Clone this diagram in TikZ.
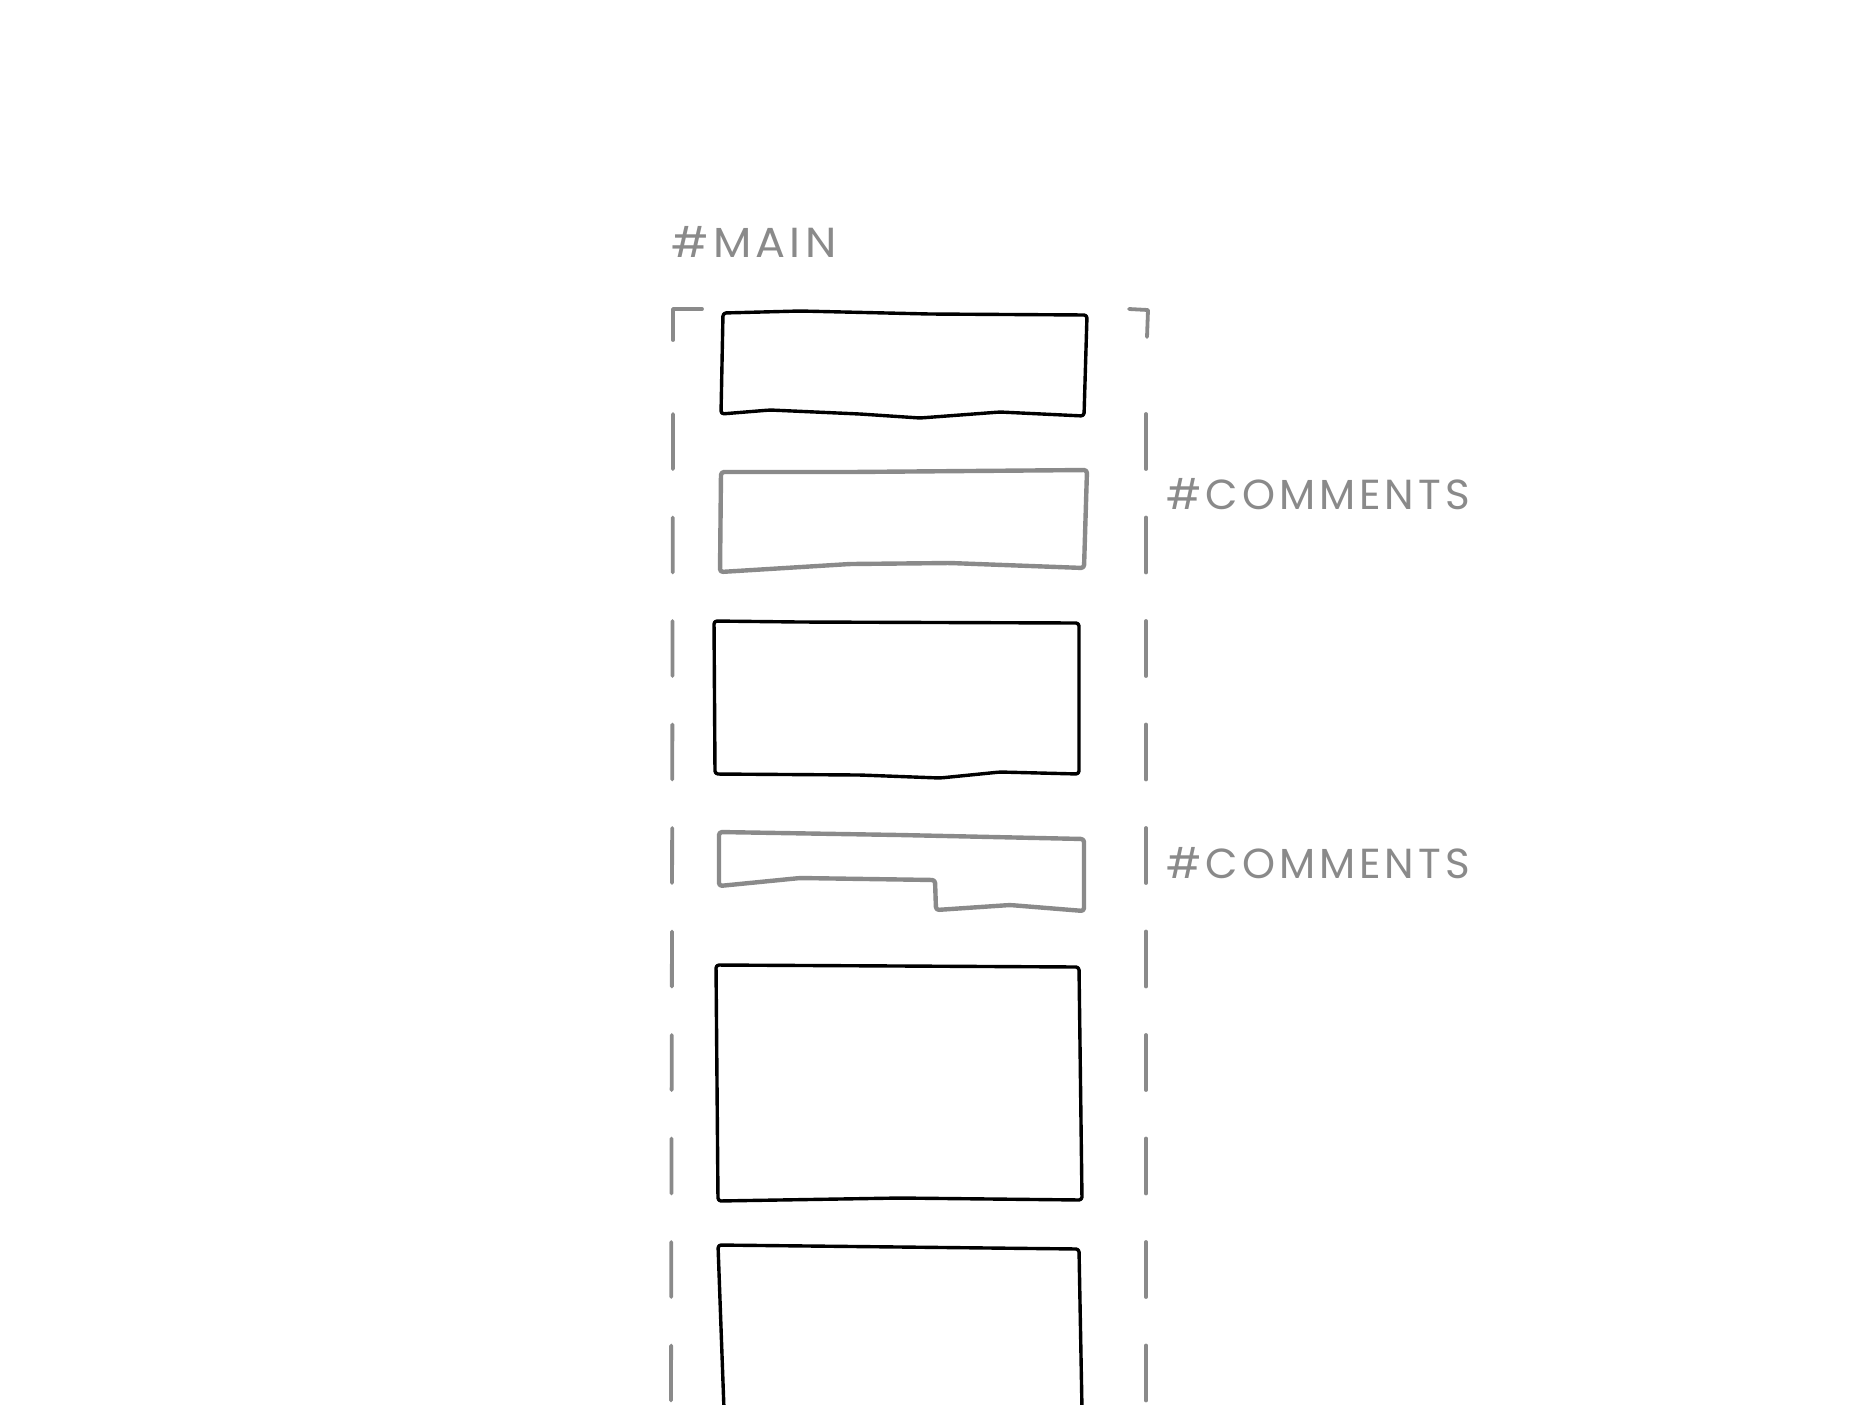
\documentclass[tikz,border=0pt]{standalone}
\usepackage{fontspec}
\newfontfamily\tagfont[LetterSpace=9.5]{Poppins}
\usetikzlibrary{positioning}
\definecolor{pencil}{HTML}{8A8A8A}

\tikzset{
  inkbox/.style={draw=black,line width=1.7pt,line join=round,line cap=round,rounded corners=1.5pt},
  greybox/.style={draw=pencil,line width=2.2pt,line join=round,line cap=round,rounded corners=1.5pt},
  rail/.style={draw=pencil,line width=1.9pt,line cap=round,dash pattern=on 27.5pt off 24.25pt},
  railcorner/.style={draw=pencil,line width=1.9pt,line cap=round,line join=round},
  tag/.style={text=pencil,font=\tagfont\fontsize{21}{21}\selectfont,inner sep=0pt,anchor=base west},
}

\begin{document}
\begin{tikzpicture}[x=0.5pt,y=-0.5pt]
  \useasboundingbox (0,0) rectangle (1872,1404);

  % labels
  \node[tag,xscale=1.06] (main) at (671,257) {\#MAIN};
  \node[tag] (comments1) at (1166,509) {\#COMMENTS};
  \node[tag] (comments2) at (1166,878) {\#COMMENTS};

  % dashed frame of the column
  \draw[railcorner] (702,309) -- (673,309) -- (673,340);
  \draw[railcorner] (1129,309) -- (1148,310) -- (1147,337);
  \draw[rail] (673,414) -- (671,1404);
  \draw[rail] (1146,414) -- (1146,1404);

  % post boxes
  \draw[inkbox] (723,313) -- (800,311) -- (930,314) -- (1087,315)
    -- (1084,416) -- (1000,412) -- (920,418) -- (860,414) -- (770,410) -- (721,414) -- cycle;
  \draw[greybox] (721,472) -- (850,472) -- (1087,470)
    -- (1084,568) -- (950,563) -- (850,564) -- (720,572) -- cycle;
  \draw[inkbox] (714,621) -- (800,622) -- (1079,623)
    -- (1079,774) -- (1000,772) -- (940,778) -- (860,775) -- (715,774) -- cycle;
  \draw[greybox] (719,832) -- (900,835) -- (1084,839) -- (1084,911)
    -- (1010,905) -- (936,910) -- (935,880) -- (800,878) -- (719,886) -- cycle;
  \draw[inkbox] (716,965) -- (900,966) -- (1079,967)
    -- (1082,1200) -- (900,1198) -- (718,1201) -- cycle;
  \draw[inkbox] (724,1410) -- (718,1245) -- (900,1247) -- (1079,1249) -- (1082,1410);
\end{tikzpicture}
\end{document}
